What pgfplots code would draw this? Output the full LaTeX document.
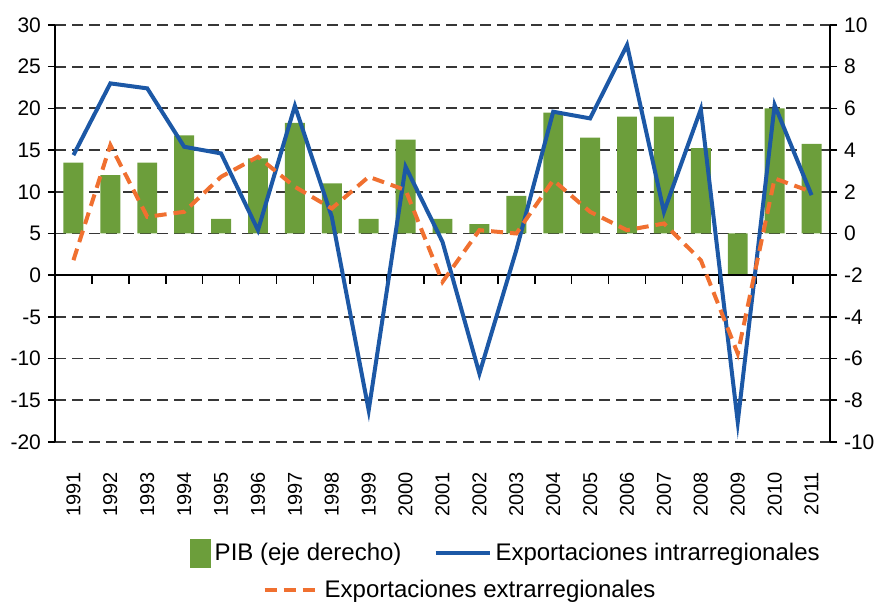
\documentclass[border=0pt]{standalone}
\usepackage{pgfplots}
\pgfplotsset{compat=1.18}
\usepackage{pgfplotstable}
\usepackage{fontspec}
\setmainfont{Liberation Sans}

\definecolor{pibgreen}{RGB}{108,158,59}
\definecolor{intrablue}{RGB}{28,88,166}
\definecolor{extraorange}{RGB}{240,112,48}
\definecolor{gridgray}{RGB}{55,55,55}

\pgfplotstableread{
x  year  pib   intra  extra
0  1991  3.4   14.4   1.8
1  1992  2.8   23.0   15.6
2  1993  3.4   22.4   7.0
3  1994  4.7   15.4   7.6
4  1995  0.7   14.6   11.8
5  1996  3.6   5.4    14.2
6  1997  5.3   20.3   10.6
7  1998  2.4   7.0    8.0
8  1999  0.7   -16.2  11.8
9  2000  4.5   13.0   10.2
10 2001  0.7   4.0    -0.8
11 2002  0.45  -11.8  5.4
12 2003  1.8   3.0    5.0
13 2004  5.8   19.6   11.4
14 2005  4.6   18.8   7.6
15 2006  5.6   27.6   5.4
16 2007  5.6   7.6    6.2
17 2008  4.1   19.9   1.8
18 2009  -1.95 -17.6  -9.4
19 2010  6.0   20.4   11.6
20 2011  4.3   9.6    10.0
}\data

\pgfplotsset{
  base/.style={
    width=387.5pt, height=208.5pt, scale only axis,
    at={(0,0)}, anchor=south west,
    xmin=-0.5, xmax=20.5,
    /pgf/number format/assume math mode=true,
    tick label style={font=\fontsize{10.5}{12}\selectfont},
    axis line style={black, line width=0.8pt},
    ytick style={black, line width=0.8pt},
    major tick length=3.5pt, tick align=outside,
    legend style={draw=none, fill=none, anchor=center,
      font=\fontsize{12}{14}\selectfont},
  },
  linelegend/.style={legend image code/.code={
    \draw[##1] (0pt,0pt) -- (27pt,0pt);}},
}

\begin{document}
\begin{tikzpicture}
\useasboundingbox (-27.5pt,-80.5pt) rectangle (411pt,221pt);

% right axis: PIB bars and the grid
\begin{axis}[base,
  ymin=-10, ymax=10, ytick={-10,-8,...,10},
  axis y line*=right, axis x line=none,
  ymajorgrids,
  grid style={gridgray, line width=0.9pt, dash pattern=on 5.5pt off 3pt},
  legend style={at={(0.524,-0.355)}},
  linelegend,
]
\addplot[ybar, bar width=0.54, fill=pibgreen, draw=none, forget plot]
  table[x=x, y=pib]{\data};
\addlegendimage{extraorange, line width=2pt, dash pattern=on 6pt off 3.5pt}
\addlegendentry{Exportaciones extrarregionales}
\end{axis}

% left axis: export lines
\begin{axis}[base,
  ymin=-20, ymax=30, ytick={-20,-15,...,30},
  axis y line*=left, axis x line*=bottom,
  x axis line style={draw=none},
  xtick={0,...,20}, xtick style={draw=none},
  xticklabels={1991,1992,1993,1994,1995,1996,1997,1998,1999,2000,2001,2002,2003,2004,2005,2006,2007,2008,2009,2010,2011},
  xticklabel style={rotate=90, anchor=east, font=\fontsize{10}{12}\selectfont},
  xticklabel shift=8pt,
  legend columns=2,
  legend style={at={(0.583,-0.266)},
    /tikz/every even column/.append style={column sep=14pt}},
]
\draw[black, line width=0.8pt] (axis cs:-0.5,0) -- (axis cs:20.5,0);
\pgfplotsinvokeforeach{0,...,19}{
  \draw[black, line width=0.8pt] (axis cs:#1.5,0) -- ([yshift=-4.5pt]axis cs:#1.5,0);
}
\addlegendimage{legend image code/.code={
  \fill[pibgreen] (0pt,-7pt) rectangle (10pt,7pt);}}
\addlegendentry{PIB (eje derecho)}
\addplot[intrablue, line width=2pt, linelegend]
  table[x=x, y=intra]{\data};
\addlegendentry{Exportaciones intrarregionales}
\addplot[extraorange, line width=2pt, dash pattern=on 6pt off 3.5pt, forget plot]
  table[x=x, y=extra]{\data};
\end{axis}
\end{tikzpicture}
\end{document}
